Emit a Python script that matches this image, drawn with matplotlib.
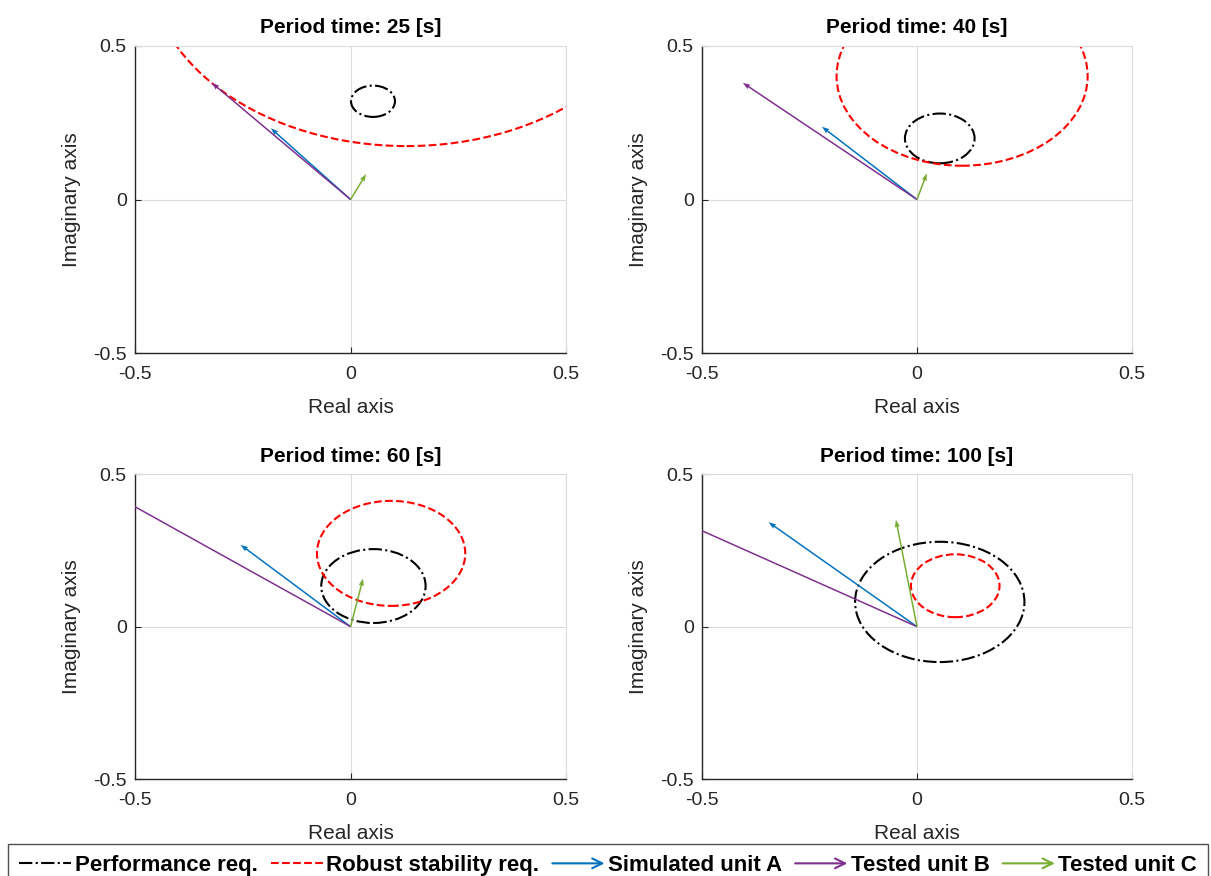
import matplotlib
matplotlib.use("Agg")
import matplotlib.pyplot as plt
import numpy as np
from matplotlib.patches import Circle, FancyArrow, FancyArrowPatch
from matplotlib.lines import Line2D
from matplotlib.legend_handler import HandlerPatch

plt.rcParams['font.family'] = ['Liberation Sans', 'DejaVu Sans']
plt.rcParams['axes.unicode_minus'] = False

# ---- data ----
periods = [25, 40, 60, 100]
perf_center_x = [0.052, 0.053, 0.053, 0.053]
perf_center_y = [0.320, 0.199, 0.133, 0.081]
perf_radius = [0.051, 0.081, 0.121, 0.197]
rob_center_x = [0.130, 0.105, 0.094, 0.089]
rob_center_y = [0.774, 0.402, 0.240, 0.134]
rob_radius = [0.600, 0.292, 0.172, 0.103]
unitA_re = [-0.185, -0.221, -0.255, -0.345]
unitA_im = [0.232, 0.237, 0.268, 0.342]
unitB_re = [-0.322, -0.405, -0.620, -0.640]
unitB_im = [0.380, 0.380, 0.487, 0.402]
unitC_re = [0.036, 0.023, 0.029, -0.049]
unitC_im = [0.083, 0.085, 0.158, 0.350]
ticks = [-0.5, 0, 0.5]
tick_labels = ['-0.5', '0', '0.5']
legend_labels = ['Performance req.', 'Robust stability req.', 'Simulated unit A',
                 'Tested unit B', 'Tested unit C']

col_A = '#0072BD'
col_B = '#7E2F8E'
col_C = '#77AC30'
txt = '#262626'

fig = plt.figure(figsize=(12.11, 8.76), dpi=100)
positions = [
    [0.1115, 0.597, 0.356, 0.3505],
    [0.5797, 0.597, 0.355, 0.3505],
    [0.1115, 0.1104, 0.356, 0.3485],
    [0.5797, 0.1104, 0.355, 0.3485],
]

for i, pos in enumerate(positions):
    ax = fig.add_axes(pos)
    ax.set_xlim(-0.5, 0.5)
    ax.set_ylim(-0.5, 0.5)
    ax.set_xticks(ticks)
    ax.set_yticks(ticks)
    ax.set_xticklabels(tick_labels)
    ax.set_yticklabels(tick_labels)
    ax.tick_params(direction='in', length=4, width=0.8, colors=txt, labelsize=14,
                   labelcolor=txt)
    ax.tick_params(axis='x', pad=9)
    ax.tick_params(axis='y', pad=6)
    ax.grid(True, color='#dcdcdc', lw=0.8)
    ax.set_axisbelow(True)
    for s in ['top', 'right']:
        ax.spines[s].set_color('#dcdcdc')
    for s in ['left', 'bottom']:
        ax.spines[s].set_color(txt)
        ax.spines[s].set_linewidth(1.0)
    ax.set_xlabel('Real axis', fontsize=15, color=txt, labelpad=11)
    ax.set_ylabel('Imaginary axis', fontsize=15, color=txt, labelpad=9)
    ax.set_title(f'Period time: {periods[i]} [s]', fontsize=15, fontweight='bold', pad=9)

    ax.add_patch(Circle((perf_center_x[i], perf_center_y[i]), perf_radius[i], fill=False,
                        ec='black', lw=1.5, linestyle='-.'))
    ax.add_patch(Circle((rob_center_x[i], rob_center_y[i]), rob_radius[i], fill=False,
                        ec='red', lw=1.5, linestyle='--'))
    for re, im, c in [(unitA_re[i], unitA_im[i], col_A),
                      (unitB_re[i], unitB_im[i], col_B),
                      (unitC_re[i], unitC_im[i], col_C)]:
        ax.quiver(0, 0, re, im, angles='xy', scale_units='xy', scale=1, color=c,
                  width=0.0035, headwidth=3.5, headlength=5.0, headaxislength=4.5, zorder=3)


def make_arrow(legend, orig_handle, xdescent, ydescent, width, height, fontsize):
    y = height / 2 - ydescent
    return FancyArrowPatch((-xdescent, y), (-xdescent + width, y),
                           arrowstyle='->,head_length=0.45,head_width=0.22',
                           mutation_scale=fontsize, shrinkA=0, shrinkB=0)


h_perf = Line2D([], [], color='black', ls='-.', lw=1.5)
h_rob = Line2D([], [], color='red', ls='--', lw=1.5)
h_A = FancyArrow(0, 0, 1, 0, fc=col_A, ec=col_A, lw=1.5)
h_B = FancyArrow(0, 0, 1, 0, fc=col_B, ec=col_B, lw=1.5)
h_C = FancyArrow(0, 0, 1, 0, fc=col_C, ec=col_C, lw=1.5)
leg = fig.legend([h_perf, h_rob, h_A, h_B, h_C], legend_labels,
                 loc='upper left', bbox_to_anchor=(0.0066, 0.0, 0.991, 0.0365),
                 mode='expand', ncol=5,
                 handler_map={FancyArrow: HandlerPatch(patch_func=make_arrow)},
                 prop={'weight': 'bold', 'size': 16}, frameon=True, fancybox=False,
                 edgecolor=txt, handlelength=2.35, handletextpad=0.15, columnspacing=0.6,
                 borderpad=0.5, borderaxespad=0)
leg.get_frame().set_linewidth(1.0)

fig.savefig('out.png', dpi=100)
